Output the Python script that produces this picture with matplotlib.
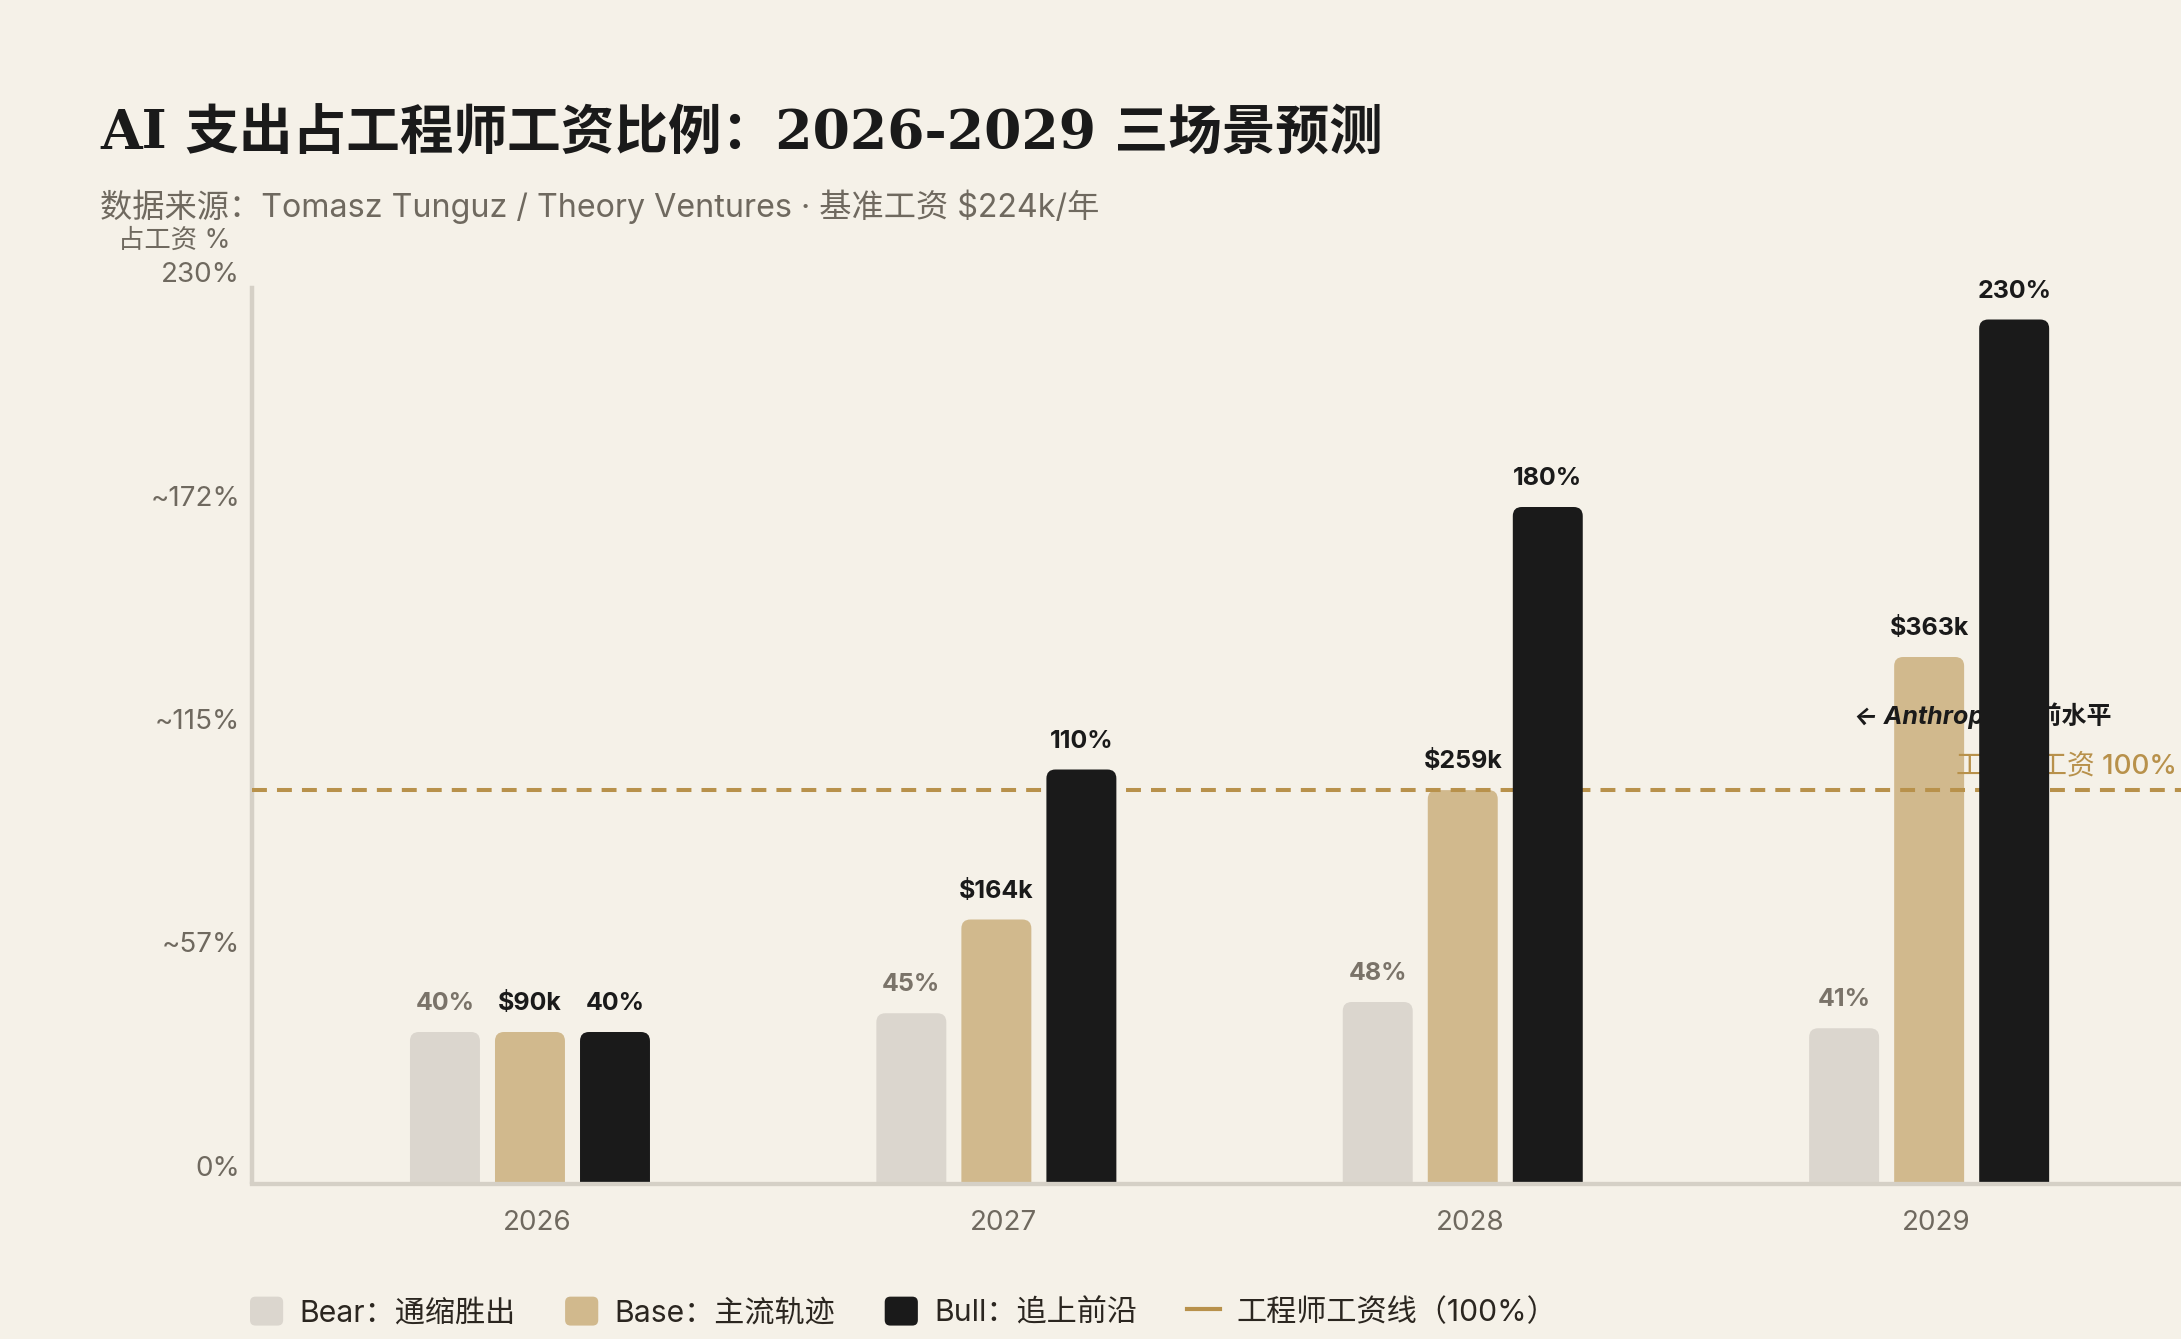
import matplotlib
matplotlib.use('Agg')
import matplotlib.pyplot as plt
from matplotlib.patches import FancyBboxPatch, Patch
from matplotlib.lines import Line2D
from matplotlib.legend_handler import HandlerPatch
from matplotlib import transforms

plt.rcParams['font.family'] = ['Inter', 'Noto Sans CJK SC', 'DejaVu Sans']

# data
years = ['2026', '2027', '2028', '2029']
bear = [40, 45, 48, 41]
base = [40, 70, 104.5, 140]
bull = [40, 110, 180, 230]
bear_labels = ['40%', '45%', '48%', '41%']
base_labels = ['$90k', '$164k', '$259k', '$363k']
bull_labels = ['40%', '110%', '180%', '230%']
y_tick_labels = ['0%', '~57%', '~115%', '~172%', '230%']
y_tick_frac = [0, 0.25, 0.5, 0.75, 1.0]
salary_line = 100
label_top = 228   # the reference line sits on its own (label) scale
series_names = ['Bear：通缩胜出', 'Base：主流轨迹', 'Bull：追上前沿']
line_name = '工程师工资线（100%）'

BG = '#f5f1e8'
C_BEAR = '#dbd6ce'
C_BASE = '#d1b98d'
C_BULL = '#1a1a1a'
GOLD = '#b8914b'
GREY = '#6f695f'
SPINE = '#d5d0c6'

W, H = 2181, 1339
fig = plt.figure(figsize=(W / 100, H / 100), dpi=100, facecolor=BG)
ax = fig.add_axes([252 / W, 1 - 1182 / H, 1 - 252 / W, (1182 - 288) / H])
ax.set_facecolor(BG)

y_max = (1182 - 288) / 3.75
ax.set_xlim(-0.596, 3.540)
ax.set_ylim(0, y_max)

# pixel scale -> aspect for rounded tops
px_x = ax.bbox.width / (3.540 + 0.596)
px_y = ax.bbox.height / y_max
aspect = px_x / px_y
r = 9 / px_x

bw = 0.150
off = 0.1823
series = [(bear, C_BEAR, -off, 2), (base, C_BASE, 0, 2), (bull, C_BULL, off, 4)]
for vals, col, dx, z in series:
    for i, v in enumerate(vals):
        p = FancyBboxPatch((i + dx - bw / 2, -6), bw, v + 6,
                           boxstyle=f'round,pad=0,rounding_size={r}',
                           mutation_aspect=aspect, facecolor=col,
                           edgecolor='none', zorder=z)
        ax.add_patch(p)

# value labels
for vals, labs, dx, col in [(bear, bear_labels, -off, '#7a7369'),
                            (base, base_labels, 0, '#1a1a1a'),
                            (bull, bull_labels, off, '#1a1a1a')]:
    for i, (v, t) in enumerate(zip(vals, labs)):
        ax.annotate(t, xy=(i + dx, v), xytext=(0, 15.8), textcoords='offset points',
                    ha='center', va='baseline', fontsize=18, fontweight='bold',
                    color=col, zorder=6)

# engineer salary line
line_y = salary_line * y_max / label_top
ax.axhline(line_y, color=GOLD, lw=2.9, ls=(0, (3.7, 2.5)), zorder=3)
ax.annotate('工程师工资 100%', xy=(1, line_y), xycoords=('axes fraction', 'data'),
            xytext=(-3, 12), textcoords='offset points', ha='right', va='baseline',
            fontsize=20, fontweight='medium', color=GOLD, zorder=3)
ax.text(3 - 0.161, 124.3, '← Anthropic 当前水平', ha='left', va='center',
        fontsize=18, fontweight='bold', style='italic', color='#1a1a1a', zorder=3)

# axes styling
for s in ['top', 'right']:
    ax.spines[s].set_visible(False)
ax.spines['left'].set_color(SPINE)
ax.spines['left'].set_linewidth(3.2)
ax.spines['bottom'].set_color(SPINE)
ax.spines['bottom'].set_linewidth(3.1)
ax.spines['bottom'].set_position(('outward', 1.5))
ax.spines['bottom'].set_zorder(5)

ax.set_xticks(range(len(years)), years)
ax.tick_params(axis='x', length=0, pad=19, labelsize=20, labelcolor=GREY)
xshift = transforms.ScaledTranslation(7 / 100, 0, fig.dpi_scale_trans)
for lab in ax.get_xticklabels():
    lab.set_transform(lab.get_transform() + xshift)
ax.set_yticks([f * y_max for f in y_tick_frac], y_tick_labels)
ax.tick_params(axis='y', length=0, pad=8.5, labelsize=20, labelcolor=GREY)
shift = transforms.ScaledTranslation(0, 16 / 100, fig.dpi_scale_trans)
for lab in ax.get_yticklabels():
    lab.set_transform(lab.get_transform() + shift)

# titles
fig.text(100 / W, 1 - 150 / H, 'AI 支出占工程师工资比例：2026-2029 三场景预测',
         fontsize=38.6, fontweight='bold', color='#1a1a1a', va='baseline',
         family=['DejaVu Serif', 'Noto Sans CJK SC'])
fig.text(100 / W, 1 - 217 / H,
         '数据来源：Tomasz Tunguz / Theory Ventures · 基准工资 $224k/年',
         fontsize=23.2, color=GREY, va='baseline')
fig.text(230 / W, 1 - 248 / H, '占工资 %', fontsize=19, color=GREY,
         ha='right', va='baseline')


# legend
def rounded_square(legend, orig_handle, xdescent, ydescent, width, height, fontsize):
    return FancyBboxPatch((-xdescent, -ydescent), width, height,
                          boxstyle='round,pad=0,rounding_size=4')


handles = [Patch(facecolor=c, edgecolor='none') for c in [C_BEAR, C_BASE, C_BULL]]
handles.append(Line2D([], [], color=GOLD, lw=3))
fig.legend(handles, series_names + [line_name], loc='center left',
           bbox_to_anchor=(250 / W, 1 - 1312 / H), ncol=4, frameon=False,
           fontsize=21.7, handlelength=1.1, handleheight=1.1, handletextpad=0.55,
           columnspacing=1.63, borderpad=0, borderaxespad=0, labelcolor='#2b2620',
           handler_map={Patch: HandlerPatch(patch_func=rounded_square)})

fig.savefig('out.png', dpi=100, facecolor=BG)
